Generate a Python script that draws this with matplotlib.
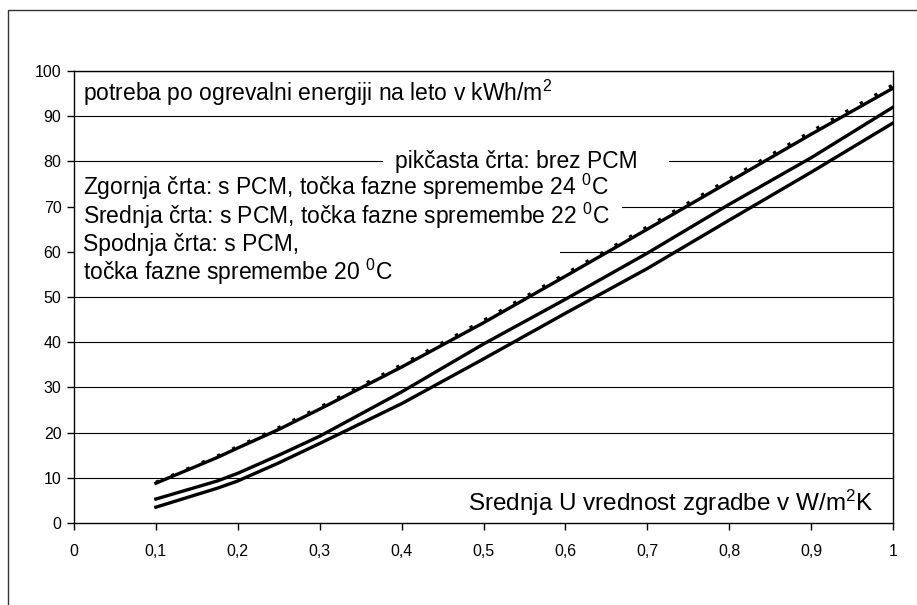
"""Heating-energy demand vs. mean U-value of the building, with/without PCM."""

import matplotlib
matplotlib.use("Agg")
import matplotlib.pyplot as plt
from matplotlib.patches import Rectangle

plt.rcParams["font.family"] = ["Liberation Sans", "DejaVu Sans"]
plt.rcParams["mathtext.fontset"] = "custom"
plt.rcParams["mathtext.rm"] = "Liberation Sans"
plt.rcParams["mathtext.it"] = "Liberation Sans"

# U value (W/m2K)
u_val = [0.1, 0.175, 0.2, 0.25, 0.3, 0.4, 0.5, 0.6, 0.7, 0.8, 0.9, 1.0]
# heating demand, kWh/m2 per year
no_pcm = [9.0, 14.8, 16.9, 21.1, 25.6, 35.0, 44.8, 55.1, 65.5, 76.1, 86.6, 96.9]
pcm_24 = [8.8, 14.5, 16.6, 20.7, 25.2, 34.5, 44.3, 54.6, 65.0, 75.5, 86.0, 96.2]
pcm_22 = [5.3, 9.3, 11.0, 15.0, 19.2, 29.0, 39.6, 49.5, 59.7, 70.5, 80.8, 92.0]
pcm_20 = [3.5, 7.7, 9.3, 13.3, 17.6, 26.4, 36.3, 46.4, 56.3, 67.0, 77.6, 88.5]

x_ticks = [0, 0.1, 0.2, 0.3, 0.4, 0.5, 0.6, 0.7, 0.8, 0.9, 1.0]
x_tick_labels = ["0", "0,1", "0,2", "0,3", "0,4", "0,5", "0,6", "0,7", "0,8", "0,9", "1"]
y_ticks = list(range(0, 101, 10))

W, H = 917, 605
fig = plt.figure(figsize=(W / 100, H / 100), dpi=100)

# outer frame (only left and top edges visible)
fig.patches.append(Rectangle((8 / W, -0.5), 2.0, (1 - 10 / H) + 0.5,
                             transform=fig.transFigure, fill=False,
                             edgecolor="#333333", linewidth=1.0))

ax = fig.add_axes([74 / W, 1 - 523 / H, (893 - 74) / W, (523 - 71) / H])
ax.set_xlim(0, 1)
ax.set_ylim(0, 100)

for y in y_ticks[1:]:
    ax.axhline(y, color="black", linewidth=0.8, zorder=1)

# white boxes behind the texts hide parts of the gridlines
ax.add_patch(Rectangle((0.377, 77.5), 0.349, 5, facecolor="white", edgecolor="none", zorder=2))
ax.add_patch(Rectangle((0.0, 64.5), 0.669, 12, facecolor="white", edgecolor="none", zorder=2))
ax.add_patch(Rectangle((0.0, 53.5), 0.593, 11, facecolor="white", edgecolor="none", zorder=2))

ax.plot(u_val, pcm_24, color="black", linewidth=2.4, zorder=4)
ax.plot(u_val, pcm_22, color="black", linewidth=2.4, zorder=4)
ax.plot(u_val, pcm_20, color="black", linewidth=2.4, zorder=4)
ax.plot(u_val, no_pcm, color="black", linewidth=2.4, linestyle=(0, (1, 4)),
        zorder=5)

fs = 16.5
ax.text(0.011, 95.2, r"potreba po ogrevalni energiji na leto v kWh/m$^{2}$",
        fontsize=fs, va="center", ha="left", zorder=3)
ax.text(0.392, 80, "pikčasta črta: brez PCM", fontsize=fs, va="center",
        ha="left", zorder=3)
ax.text(0.011, 74.3, r"Zgornja črta: s PCM, točka fazne spremembe 24 $^{0}$C",
        fontsize=fs, va="center", ha="left", zorder=3)
ax.text(0.011, 67.9, r"Srednja črta: s PCM, točka fazne spremembe 22 $^{0}$C",
        fontsize=fs, va="center", ha="left", zorder=3)
ax.text(0.011, 61.7, "Spodnja črta: s PCM,", fontsize=fs, va="center",
        ha="left", zorder=3)
ax.text(0.011, 55.5, r"točka fazne spremembe 20 $^{0}$C", fontsize=fs,
        va="center", ha="left", zorder=3)
ax.text(0.976, 4.4, r"Srednja U vrednost zgradbe v W/m$^{2}$K", fontsize=17.5,
        va="center", ha="right", zorder=3)

ax.set_xticks(x_ticks)
ax.set_xticklabels(x_tick_labels)
ax.set_yticks(y_ticks)
ax.tick_params(axis="both", direction="out", length=5, width=1.0,
               labelsize=11.5, colors="black")
ax.tick_params(axis="x", pad=10)
ax.tick_params(axis="y", pad=4)
for sp in ax.spines.values():
    sp.set_color("black")
    sp.set_linewidth(1.0)

fig.savefig("out.png", dpi=100)
